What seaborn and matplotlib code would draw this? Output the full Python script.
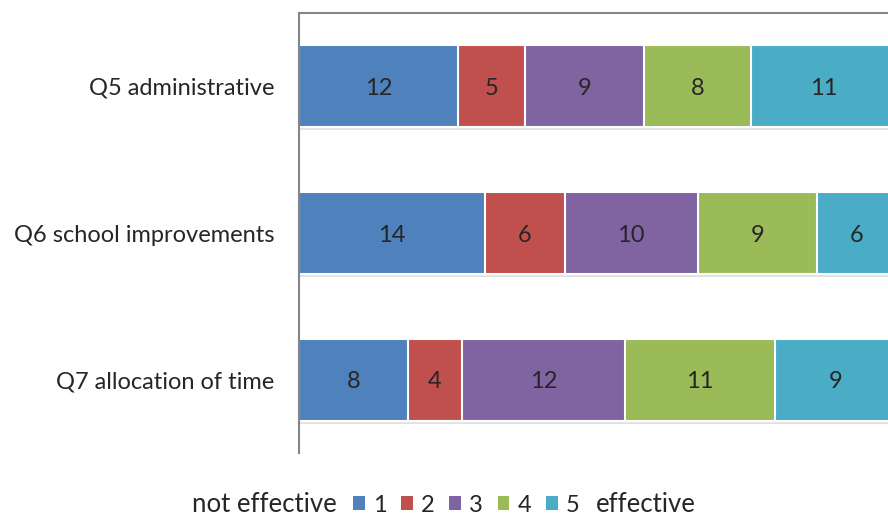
import matplotlib
matplotlib.use("Agg")
import matplotlib.pyplot as plt
import seaborn as sns
import numpy as np
import pandas as pd
from matplotlib.patches import Patch

categories = ["Q5 administrative", "Q6 school improvements", "Q7 allocation of time"]
levels = ["1", "2", "3", "4", "5"]
values = {
    "1": [12, 14, 8],
    "2": [5, 6, 4],
    "3": [9, 10, 12],
    "4": [8, 9, 11],
    "5": [11, 6, 9],
}
colors = ["#4F81BD", "#C0504D", "#8064A2", "#9BBB59", "#4BACC6"]

sns.set_theme(style="white")
plt.rcParams["font.family"] = ["Lato", "DejaVu Sans"]

fig = plt.figure(figsize=(8.88, 5.17), dpi=100)
ax = fig.add_axes([299 / 888, 1 - 453 / 517, 1 - 299 / 888, (453 - 13) / 517])

df = pd.DataFrame(values, index=categories)
pct = df.div(df.sum(axis=1), axis=0) * 100
cum = pct.cumsum(axis=1)

# subtle shadow under each bar
ypos = np.arange(len(categories))
ax.barh(ypos + 0.02, cum["5"].values, height=0.56, color="#c4c4c4", alpha=0.5,
        edgecolor="none", zorder=0)

for lvl, col in reversed(list(zip(levels, colors))):
    sns.barplot(x=cum[lvl].values, y=categories, orient="h", color=col,
                width=0.56, edgecolor="white", linewidth=1.5, ax=ax, saturation=1)

for i, cat in enumerate(categories):
    for lvl in levels:
        v = df.loc[cat, lvl]
        c = cum.loc[cat, lvl] - pct.loc[cat, lvl] / 2
        ax.text(c, i, str(v), ha="center", va="center_baseline", fontsize=17, color="#262626")

ax.set_xlim(0, 98.5)
ax.set_ylim(2.5, -0.5)
ax.set_xticks([])
ax.set_xlabel("")
ax.set_ylabel("")
ax.tick_params(axis="y", length=0, pad=18, labelsize=17, labelcolor="#262626")
for s in ["right", "bottom"]:
    ax.spines[s].set_visible(False)
for s in ["left", "top"]:
    ax.spines[s].set_color("#868686")
    ax.spines[s].set_linewidth(1.5)

handles = [Patch(facecolor=c, edgecolor="none") for c in colors]
fig.legend(handles, levels, loc="center left", bbox_to_anchor=(353 / 888, 1 - 505 / 517),
           ncol=5, frameon=False, fontsize=17, handlelength=0.5, handleheight=0.5,
           handletextpad=0.34, columnspacing=0.62, labelcolor="#262626",
           borderpad=0, borderaxespad=0)
fig.text(337 / 888, 1 - 504 / 517, "not effective", ha="right", va="center",
         fontsize=18.5, color="#262626")
fig.text(596 / 888, 1 - 504 / 517, "effective", ha="left", va="center",
         fontsize=18.5, color="#262626")

fig.savefig("out.png", dpi=100)
